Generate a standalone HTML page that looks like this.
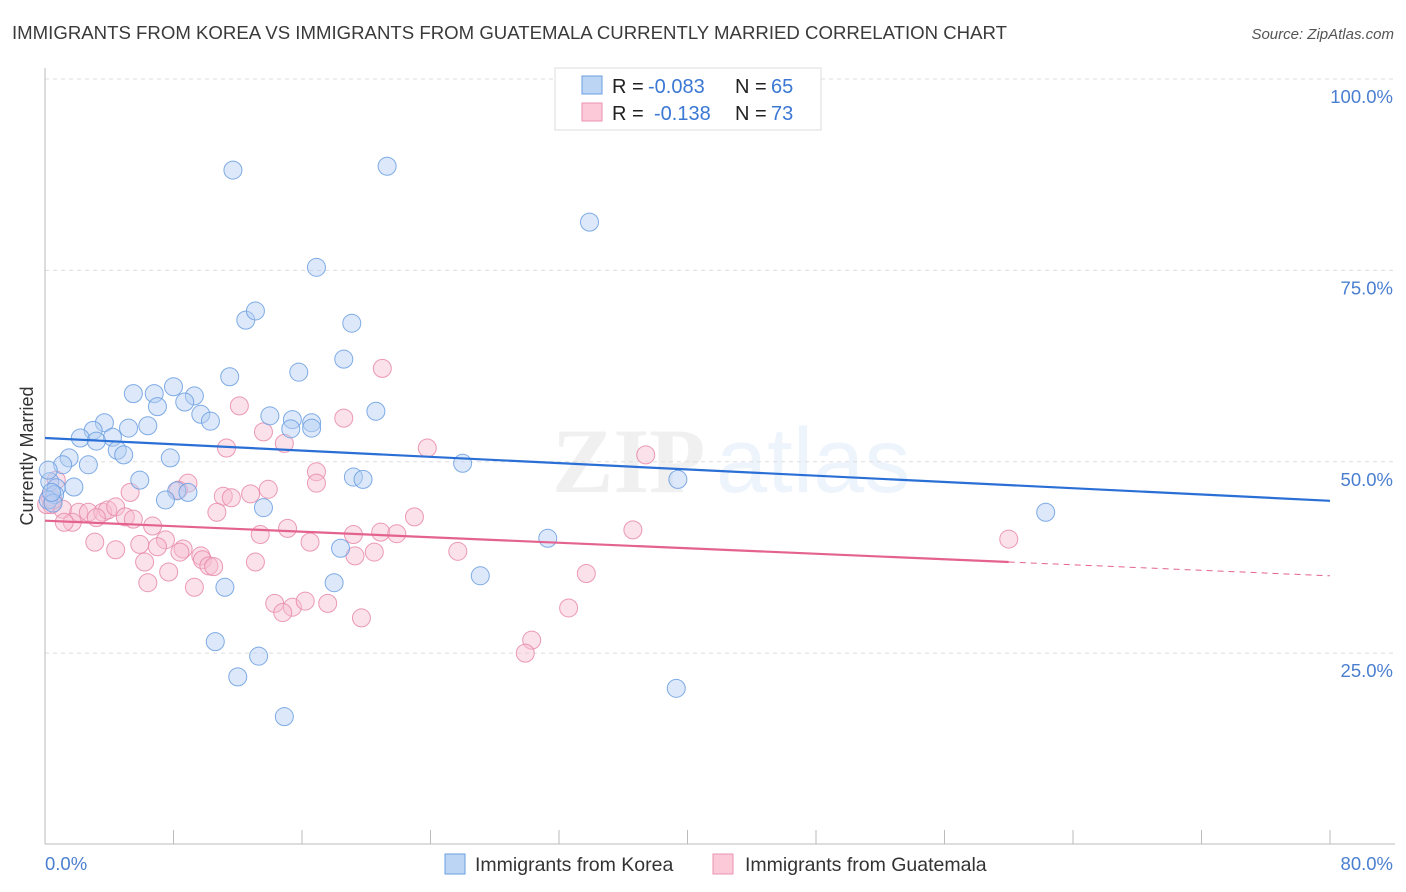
<!DOCTYPE html>
<html><head><meta charset="utf-8">
<style>
body{margin:0;background:#fff;font-family:"Liberation Sans",sans-serif;}
</style></head>
<body>
<svg id="chart" width="1406" height="892" xmlns="http://www.w3.org/2000/svg" style="display:block">
<text x="12" y="39" font-size="18.5" fill="#3a3a3a" textLength="995" lengthAdjust="spacingAndGlyphs">IMMIGRANTS FROM KOREA VS IMMIGRANTS FROM GUATEMALA CURRENTLY MARRIED CORRELATION CHART</text>
<text x="1394" y="39" font-size="15" fill="#555" font-style="italic" text-anchor="end">Source: ZipAtlas.com</text>
<text transform="translate(33,456) rotate(-90)" font-size="18" fill="#333" text-anchor="middle">Currently Married</text>
<g font-size="92" font-weight="bold" opacity="0.09">
<text x="552" y="492" fill="#666" font-family="Liberation Serif,serif">ZIP</text>
<text x="716" y="492" fill="#4a8ee0" font-weight="normal">atlas</text>
</g>
<g id="grid"></g>
<g id="lines"></g>
<g id="dots"></g>
<g font-size="20">
<rect x="555" y="68" width="266" height="62" fill="#fff" stroke="#ddd"/>
<rect x="582" y="76" width="20" height="18" fill="#bcd5f5" stroke="#6a9ee0"/>
<rect x="582" y="103" width="20" height="18" fill="#fbc9d8" stroke="#eb94b0"/>
<text x="612" y="93" fill="#222">R =</text>
<text x="648" y="93" fill="#3a78d4">-0.083</text>
<text x="735" y="93" fill="#222">N =</text>
<text x="771" y="93" fill="#3a78d4">65</text>
<text x="612" y="120" fill="#222">R =</text>
<text x="654" y="120" fill="#3a78d4">-0.138</text>
<text x="735" y="120" fill="#222">N =</text>
<text x="771" y="120" fill="#3a78d4">73</text>
</g>
<g>
<rect x="445" y="854" width="20" height="20" fill="#bcd5f5" stroke="#6a9ee0"/>
<text x="475" y="871" font-size="19.5" fill="#333">Immigrants from Korea</text>
<rect x="713" y="854" width="20" height="20" fill="#fbc9d8" stroke="#eb94b0"/>
<text x="745" y="871" font-size="19.5" fill="#333">Immigrants from Guatemala</text>
</g>
</svg>
<script>
const yTicks=[100,75,50,25];
const yTickLabels=["100.0%","75.0%","50.0%","25.0%"];
const xTickCount=[0,8,16,24,32,40,48,56,64,72,80];
const xEndLabels=["0.0%","80.0%"];
const koreaX=[11.7,21.3,33.9,16.9,12.5,13.1,19.1,18.6,15.8,11.5,8.0,5.5,6.8,9.3,8.7,7.0,20.6,14.0,9.7,10.3,15.4,16.6,16.6,15.3,6.4,5.2,3.7,3.0,2.2,4.2,3.2,4.5,4.9,1.5,1.1,2.7,7.8,5.9,0.3,0.7,0.6,1.8,0.2,8.2,8.9,7.5,13.6,19.2,19.8,26.0,39.4,62.3,31.3,18.4,18.0,27.1,11.2,10.6,13.3,12.0,39.3,14.9,0.5,0.2,0.4];
const koreaY=[88.1,88.6,81.3,75.4,68.5,69.7,68.1,63.4,61.7,61.1,59.8,58.9,58.9,58.6,57.8,57.2,56.6,56.0,56.2,55.3,55.5,55.1,54.4,54.3,54.7,54.4,55.1,54.1,53.1,53.2,52.7,51.5,50.9,50.5,49.6,49.6,50.5,47.6,47.4,46.6,45.7,46.7,45.0,46.2,46.0,45.0,44.0,48.0,47.7,49.8,47.7,43.4,40.0,38.7,34.2,35.1,33.6,26.5,24.6,21.9,20.4,16.7,44.6,48.9,46.0];
const guatX=[21.0,12.1,18.6,11.3,13.6,14.9,23.8,37.4,16.9,8.9,5.3,8.3,11.1,11.6,12.8,13.9,16.9,0.7,0.3,0.4,1.1,2.1,2.7,3.6,3.9,4.4,3.2,1.7,1.2,5.0,5.5,6.7,10.7,15.1,23.0,20.9,21.9,19.2,36.6,13.4,16.5,3.1,5.9,4.4,7.5,7.0,8.6,8.4,9.7,9.8,10.2,10.5,6.2,13.1,19.3,20.5,25.7,7.7,6.4,33.7,9.3,14.3,15.4,16.2,17.6,14.8,32.6,19.7,30.3,29.9,60.0,0.1,0.5];
const guatY=[62.2,57.3,55.7,51.8,53.9,52.4,51.8,50.9,48.7,47.2,46.0,46.3,45.5,45.3,45.8,46.4,47.2,47.6,45.4,44.4,43.8,43.4,43.4,43.4,43.7,44.1,42.7,42.1,42.1,42.8,42.5,41.6,43.4,41.3,42.8,40.8,40.6,40.5,41.1,40.5,39.5,39.5,39.2,38.5,39.8,38.9,38.6,38.2,37.7,37.2,36.4,36.3,36.9,36.9,37.7,38.2,38.3,35.6,34.2,35.4,33.6,31.5,31.0,31.8,31.5,30.3,30.9,29.6,26.7,25.0,39.9,44.4,45.0];
const koreaTrend=[0,53.1,80,44.9];
const guatTrend=[0,42.3,60,36.9,80,35.1];
const X0=45,X1=1330,Y0=844.5,Y100=79;
const sx=v=>X0+(v/80)*(X1-X0);
const sy=v=>Y0-(v/100)*(Y0-Y100);
const NS="http://www.w3.org/2000/svg";
function mk(tag,attrs,parent){const e=document.createElementNS(NS,tag);for(const k in attrs)e.setAttribute(k,attrs[k]);parent.appendChild(e);return e;}
const grid=document.getElementById('grid');
yTicks.forEach((t,i)=>{
  const l=mk('line',{x1:X0,x2:1395,y1:sy(t),y2:sy(t),stroke:'#ddd','stroke-dasharray':'4,4'},grid);
  
  
  const tx=mk('text',{x:1393,y:sy(t)+24,'font-size':18.5,fill:'#4a7fd0','text-anchor':'end'},grid);
  tx.textContent=yTickLabels[i];
  
  
});
const ya=mk('line',{x1:X0,x2:X0,y1:68,y2:844,stroke:'#bbb'},grid);


const xa=mk('line',{x1:X0,x2:1395,y1:844,y2:844,stroke:'#bbb'},grid);


xTickCount.forEach(t=>{
  const l=mk('line',{x1:sx(t),x2:sx(t),y1:830,y2:844,stroke:'#bbb'},grid);
  
  
});
[[0,'start',45],[80,'end',1393]].forEach((a,i)=>{
  const tx=mk('text',{x:a[2],y:870,'font-size':18.5,fill:'#4a7fd0','text-anchor':a[1]},grid);
  tx.textContent=xEndLabels[i];
  
  
});
const lines=document.getElementById('lines');
const dots=document.getElementById('dots');
function drawDots(xs,ys,fill,stroke,name){
  xs.forEach((x,i)=>{
    const c=mk('circle',{cx:sx(x),cy:sy(ys[i]),r:9,fill:fill,'fill-opacity':0.45,stroke:stroke,'stroke-width':1,'stroke-opacity':0.85},dots);
    
    
  });
}
drawDots(guatX,guatY,'#f7bcd0','#e88aa8','guatemala-point');
drawDots(koreaX,koreaY,'#b3cff3','#6a9de0','korea-point');
const kl=mk('line',{x1:sx(koreaTrend[0]),y1:sy(koreaTrend[1]),x2:sx(koreaTrend[2]),y2:sy(koreaTrend[3]),stroke:'#2a6fd6','stroke-width':2.2},lines);


const gl=mk('line',{x1:sx(guatTrend[0]),y1:sy(guatTrend[1]),x2:sx(guatTrend[2]),y2:sy(guatTrend[3]),stroke:'#e4628f','stroke-width':2.2},lines);


const gd=mk('line',{x1:sx(guatTrend[2]),y1:sy(guatTrend[3]),x2:sx(guatTrend[4]),y2:sy(guatTrend[5]),stroke:'#e4628f','stroke-width':1,'stroke-dasharray':'6,5'},lines);


document.getElementById('chart').appendChild(lines);
</script>
</body></html>
